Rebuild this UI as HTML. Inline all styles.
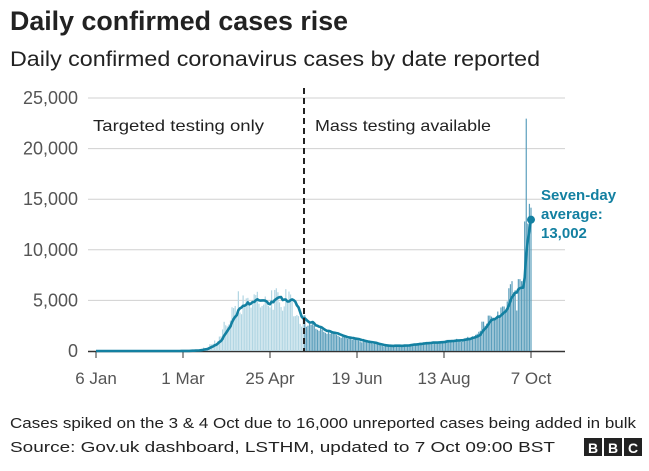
<!DOCTYPE html>
<html><head><meta charset="utf-8"><style>
body{margin:0;background:#fff;width:649px;height:466px;overflow:hidden;font-family:"Liberation Sans",sans-serif;}
</style></head><body>
<svg width="649" height="466" xmlns="http://www.w3.org/2000/svg" id="svg">
<text x="10" y="30" font-size="27" font-weight="bold" fill="#222" textLength="338" lengthAdjust="spacingAndGlyphs">Daily confirmed cases rise</text>
<text x="10" y="66" font-size="21" fill="#222" textLength="530" lengthAdjust="spacingAndGlyphs">Daily confirmed coronavirus cases by date reported</text>
<g id="grid"></g>
<g id="bars"></g>
<g id="line"></g>
<g id="ann"></g>
<text x="10" y="428" font-size="15" fill="#222" textLength="626" lengthAdjust="spacingAndGlyphs">Cases spiked on the 3 &amp; 4 Oct due to 16,000 unreported cases being added in bulk</text>
<text x="10" y="452" font-size="15" fill="#222" textLength="545" lengthAdjust="spacingAndGlyphs">Source: Gov.uk dashboard, LSTHM, updated to 7 Oct 09:00 BST</text>
<g>
<rect x="584" y="438" width="18" height="18" fill="#222"/><rect x="604" y="438" width="18" height="18" fill="#222"/><rect x="624" y="438" width="18" height="18" fill="#222"/>
<text x="593" y="453" font-size="14" font-weight="bold" fill="#fff" text-anchor="middle">B</text>
<text x="613" y="453" font-size="14" font-weight="bold" fill="#fff" text-anchor="middle">B</text>
<text x="633" y="453" font-size="14" font-weight="bold" fill="#fff" text-anchor="middle">C</text>
</g>
</svg>
<script>
const jan=new Array(26).fill(0);
const feb=[0,0,0,0,0,0,0,0,0,1,0,0,0,0,0,0,0,0,0,0,0,0,0,3,6,13,2,5,8];
const mar=[12,4,11,34,29,48,45,69,43,62,77,130,208,342,251,152,407,676,643,714,1035,665,967,1427,1452,2129,2885,2546,2433,2619,3009];
const apr=[4324,4244,4450,3735,5903,3802,3634,5491,4344,5195,5252,4603,4288,4617,5599,5525,5850,4676,4301,4451,4583,5386,4913,4463,4309,5996,4076,6032,6201,5806];
const may=[4806,4339,3985,4406,6111,4815,5871,5584,4912,3429,3450,3560,3446,2684,2412,3534,3533,2400,2500,2700,2600,2800,2500,2200,2100,2000,2400,2100,1900,1800,1700];
const jun=[2000,1700,1900,1800,1700,1600,1500,1400,1300,1400,1500,1300,1200,1300,1200,1100,1300,1200,1150,1050,950,850,950,900,1000,900,800,750,700,800];
const jul=[700,650,600,550,500,450,550,600,500,520,480,450,550,560,600,500,480,450,600,550,600,650,700,680,650,600,700,750,800,750,850];
const aug=[800,750,700,850,900,950,880,750,800,850,900,950,1000,1050,1100,900,850,1000,1050,1100,1200,1150,1000,900,1100,1250,1300,1400,1300,1250,1450];
const sep=[1300,1600,1700,1900,2000,2900,2900,2500,2700,3500,3500,3400,3300,3100,3100,3900,3400,4300,4400,4400,3900,4900,6200,6600,6900,5800,6000,4000,7100,7100];
const oct=[6900,6900,12800,22961,12594,14542,14162];
const cases=[].concat(jan,feb,mar,apr,may,jun,jul,aug,sep,oct);
const yTicks=[0,5000,10000,15000,20000,25000];
const yTickLabels=["0","5,000","10,000","15,000","20,000","25,000"];
const xTickDays=[0,55,110,165,220,275];
const xTickLabels=["6 Jan","1 Mar","25 Apr","19 Jun","13 Aug","7 Oct"];
const massTestingDay=131.5;

const NS="http://www.w3.org/2000/svg";
const x=d=>96+d*(435/275);
const y=v=>351-v*(253/25000);
function mk(tag,attrs,parent){const e=document.createElementNS(NS,tag);for(const k in attrs)e.setAttribute(k,attrs[k]);parent.appendChild(e);return e;}
const grid=document.getElementById('grid'),bars=document.getElementById('bars'),line=document.getElementById('line'),ann=document.getElementById('ann');
yTicks.forEach((t,i)=>{
 if(t>0){const l=mk('line',{x1:88,x2:565,y1:y(t),y2:y(t),stroke:'#d0d0d0','stroke-width':1},grid);
 
 }
 const tx=mk('text',{x:78,y:y(t)+6,'font-size':18,fill:'#555','text-anchor':'end'},grid);tx.textContent=yTickLabels[i];
 
 
});
cases.forEach((v,d)=>{
 const r=mk('rect',{x:x(d)-0.6,y:y(v),width:1.2,height:351-y(v),fill:d<massTestingDay?'#b2d6e3':'#5c9fbc'},bars);
 
 
});
const base=mk('line',{x1:88,x2:565,y1:351.5,y2:351.5,stroke:'#333','stroke-width':1.5},grid);


xTickDays.forEach((d,i)=>{
 const tk=mk('line',{x1:x(d),x2:x(d),y1:352,y2:358,stroke:'#333','stroke-width':1},grid);
 
 
 const tx=mk('text',{x:x(d),y:384,'font-size':17,fill:'#555','text-anchor':'middle'},grid);tx.textContent=xTickLabels[i];
 
 
});
const avg=cases.map((v,i)=>{const s=cases.slice(Math.max(0,i-6),i+1);return s.reduce((a,b)=>a+b,0)/s.length;});
const p=mk('path',{d:avg.map((v,i)=>(i?'L':'M')+x(i).toFixed(1)+' '+y(v).toFixed(1)).join(' '),fill:'none',stroke:'#1380a1','stroke-width':2.6,'stroke-linejoin':'round'},line);


const dot=mk('circle',{cx:x(275),cy:y(avg[275]),r:4,fill:'#1380a1'},line);


const dl=mk('line',{x1:x(massTestingDay),x2:x(massTestingDay),y1:88,y2:351,stroke:'#222','stroke-width':2,'stroke-dasharray':'6,4'},ann);


const a1=mk('text',{x:93,y:131,'font-size':16,fill:'#222',textLength:171,lengthAdjust:'spacingAndGlyphs'},ann);a1.textContent='Targeted testing only';


const a2=mk('text',{x:315,y:131,'font-size':16,fill:'#222',textLength:176,lengthAdjust:'spacingAndGlyphs'},ann);a2.textContent='Mass testing available';


['Seven-day','average:','13,002'].forEach((s,i)=>{
 const t=mk('text',{x:541,y:200+i*19,'font-size':15,'font-weight':'bold',fill:'#1380a1'},ann);t.textContent=s;
 
 
});
</script>
</body></html>
